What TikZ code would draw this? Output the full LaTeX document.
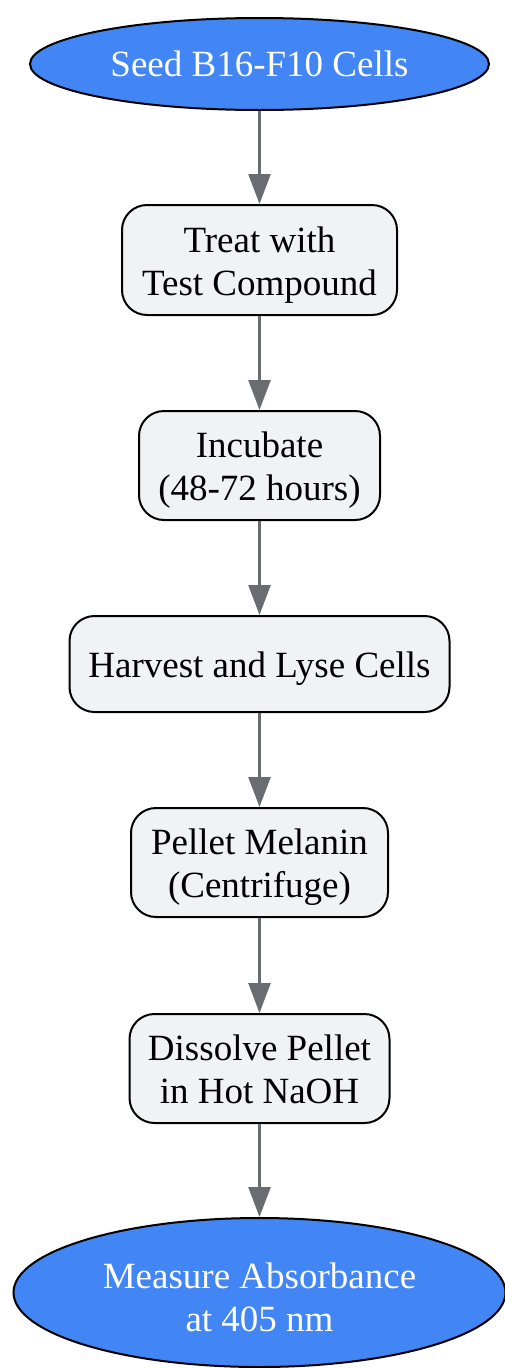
\documentclass[tikz,border=0pt]{standalone}
\usepackage{fontspec}
\setmainfont{Liberation Serif}
\usetikzlibrary{shapes.geometric,arrows.meta}
\definecolor{stepblue}{HTML}{4285F4}
\definecolor{stepfill}{HTML}{F1F2F4}
\definecolor{arrgrey}{HTML}{696C71}
\newcommand\lowtext[2][5pt]{\raisebox{-#1}[\height][\depth]{\begin{tabular}{@{}c@{}}#2\end{tabular}}}
\begin{document}
\begin{tikzpicture}[x=1pt,y=1pt,
  every node/.style={font=\fontsize{37}{43}\selectfont, align=center, inner sep=0pt},
  termnode/.style={ellipse, draw=black, line width=2pt, fill=stepblue, text=white},
  stepbox/.style={rectangle, rounded corners=25pt, draw=black, line width=2pt, fill=stepfill, text=black},
  flowarr/.style={draw=arrgrey, line width=2.5pt, -{Triangle[width=22pt,length=30pt]}}
]
\useasboundingbox (0,0) rectangle (504,-1368);
\node[termnode, minimum width=459pt, minimum height=92pt] (n1) at (259.5,-64) {Seed B16-F10 Cells};
\node[stepbox, minimum width=275pt, minimum height=110pt] (n2) at (259.5,-260) {\lowtext{Treat with\\Test Compound}};
\node[stepbox, minimum width=241pt, minimum height=109pt] (n3) at (259.5,-465.5) {\lowtext{Incubate\\(48-72 hours)}};
\node[stepbox, minimum width=380pt, minimum height=96pt] (n4) at (259.5,-664) {\lowtext{Harvest and Lyse Cells}};
\node[stepbox, minimum width=257pt, minimum height=109pt] (n5) at (259.5,-862.5) {\lowtext{Pellet Melanin\\(Centrifuge)}};
\node[stepbox, minimum width=260pt, minimum height=109pt] (n6) at (259.5,-1068.5) {\lowtext{Dissolve Pellet\\in Hot NaOH}};
\node[termnode, minimum width=492pt, minimum height=149pt] (n7) at (259.5,-1292.5) {\lowtext[9pt]{Measure Absorbance\\at 405 nm}};
\draw[flowarr] (n1) -- (n2);
\draw[flowarr] (n2) -- (n3);
\draw[flowarr] (n3) -- (n4);
\draw[flowarr] (n4) -- (n5);
\draw[flowarr] (n5) -- (n6);
\draw[flowarr] (n6) -- (n7);
\end{tikzpicture}
\end{document}
